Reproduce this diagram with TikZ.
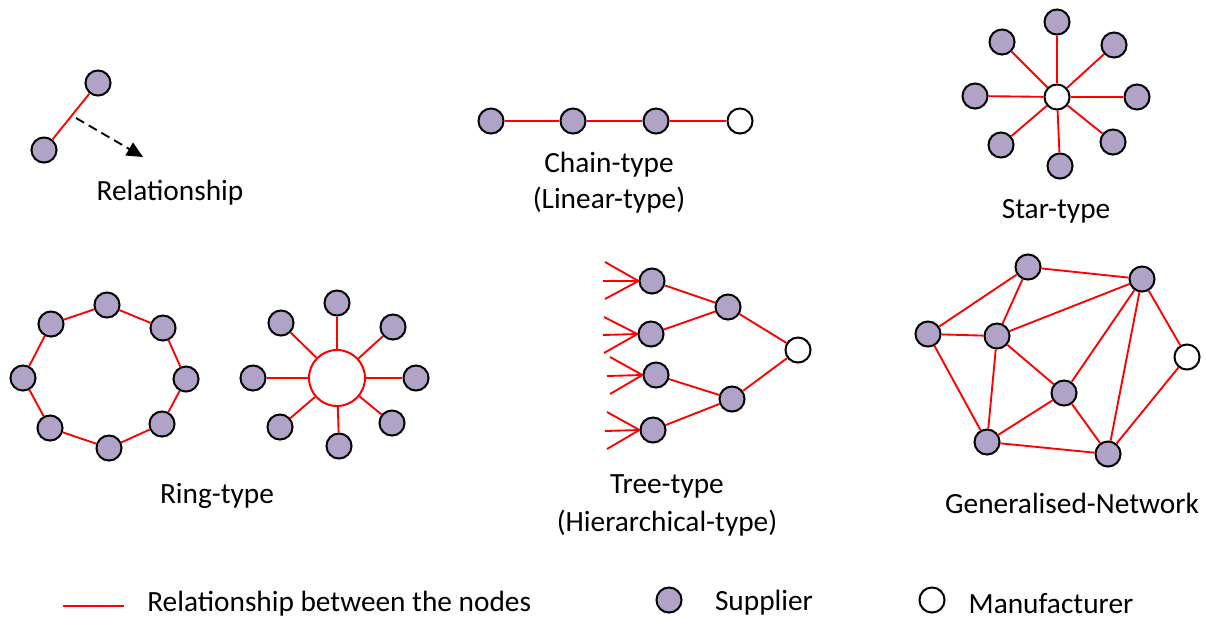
\documentclass[tikz,border=0pt]{standalone}
\usepackage{fontspec}
\setmainfont{Carlito}
\usetikzlibrary{arrows.meta}
\begin{document}
\begin{tikzpicture}[x=0.75pt,y=-0.75pt,
  sup/.style={circle,draw=black,fill={rgb,255:red,177;green,162;blue,199},line width=1.5pt,inner sep=0pt,minimum size=18.8pt},
  man/.style={circle,draw=black,fill=white,line width=1.5pt,inner sep=0pt,minimum size=18.8pt},
  hub/.style={circle,draw=red,fill=white,line width=1.5pt,inner sep=0pt,minimum size=42pt},
  rel/.style={draw=red,line width=1.4pt},
  lbl/.style={font=\fontsize{22}{26}\selectfont,inner sep=0pt}]
\useasboundingbox (0,0) rectangle (1206,619);
% Relationship
\node[sup] (r1) at (98,83) {};
\node[sup] (r2) at (44,150) {};
\draw[rel] (r1) -- (r2);
\coordinate (ra) at (76,118);
\coordinate (rb) at (143,157);
\draw[black,line width=1.4pt,dash pattern=on 7pt off 4pt,-{Triangle[length=12pt,width=11pt]}] (ra) -- (rb);
\node[lbl] (tr) at (170,193) {Relationship};
% Chain
\node[sup] (c1) at (491,121) {};
\node[sup] (c2) at (573,121) {};
\node[sup] (c3) at (656,121) {};
\node[man] (c4) at (740,121) {};
\draw[rel] (c1) -- (c2) (c2) -- (c3) (c3) -- (c4);
\node[lbl] (tc1) at (609,165) {Chain-type};
\node[lbl] (tc2) at (609,200) {(Linear-type)};
% Star
\node[man] (s0) at (1057,97) {};
\node[sup] (s1) at (1057,22) {};
\node[sup] (s2) at (1114,45) {};
\node[sup] (s3) at (1137,97) {};
\node[sup] (s4) at (1113,142) {};
\node[sup] (s5) at (1060,166) {};
\node[sup] (s6) at (1001,145) {};
\node[sup] (s7) at (975,96) {};
\node[sup] (s8) at (1002,42) {};
\foreach \i in {1,...,8} \draw[rel] (s0) -- (s\i);
\node[lbl] (ts) at (1056,211) {Star-type};
% Ring
\node[sup] (g1) at (107,305) {};
\node[sup] (g2) at (163,328) {};
\node[sup] (g3) at (186,379) {};
\node[sup] (g4) at (162,424) {};
\node[sup] (g5) at (109,448) {};
\node[sup] (g6) at (50,428) {};
\node[sup] (g7) at (23,378) {};
\node[sup] (g8) at (51,324) {};
\draw[rel] (g1) -- (g2) (g2) -- (g3) (g3) -- (g4) (g4) -- (g5) (g5) -- (g6) (g6) -- (g7) (g7) -- (g8) (g8) -- (g1);
% Hub
\node[hub] (h0) at (337,378) {};
\node[sup] (h1) at (337,303) {};
\node[sup] (h2) at (393,327) {};
\node[sup] (h3) at (416,378) {};
\node[sup] (h4) at (392,423) {};
\node[sup] (h5) at (339,446) {};
\node[sup] (h6) at (280,427) {};
\node[sup] (h7) at (253,378) {};
\node[sup] (h8) at (281,323) {};
\foreach \i in {1,...,8} \draw[rel] (h0) -- (h\i);
\node[lbl] (tg) at (217,496) {Ring-type};
% Tree
\node[sup] (t1) at (652,281) {};
\node[sup] (t2) at (651,334) {};
\node[sup] (t3) at (656,375) {};
\node[sup] (t4) at (653,430) {};
\node[sup] (m1) at (728,307) {};
\node[sup] (m2) at (732,399) {};
\node[man] (tm) at (798,350) {};
\draw[rel] (t1) -- (m1) (t2) -- (m1) (t3) -- (m2) (t4) -- (m2) (m1) -- (tm) (m2) -- (tm);
\coordinate (f1a) at (605,262); \coordinate (f1b) at (603,281); \coordinate (f1c) at (605,299);
\coordinate (f2a) at (604,317); \coordinate (f2b) at (603,335); \coordinate (f2c) at (604,353);
\coordinate (f3a) at (610,357); \coordinate (f3b) at (607,376); \coordinate (f3c) at (610,394);
\coordinate (f4a) at (607,412); \coordinate (f4b) at (605,431); \coordinate (f4c) at (607,449);
\foreach \k in {1,2,3,4} {
  \draw[rel] (f\k a) -- (t\k.west);
  \draw[rel] (f\k b) -- (t\k.west);
  \draw[rel] (f\k c) -- (t\k.west);
}
\node[lbl] (tt1) at (667,486) {Tree-type};
\node[lbl] (tt2) at (667,523) {(Hierarchical-type)};
% Generalised network
\node[sup] (nA) at (1028,267) {};
\node[sup] (nB) at (1142,279) {};
\node[sup] (nC) at (928,334) {};
\node[sup] (nD) at (997,336) {};
\node[sup] (nE) at (1064,393) {};
\node[sup] (nF) at (987,442) {};
\node[sup] (nG) at (1108,454) {};
\node[man] (nM) at (1187,357) {};
\draw[rel] (nA) -- (nB) (nA) -- (nC) (nA) -- (nD) (nC) -- (nD) (nD) -- (nB)
  (nC) -- (nF) (nD) -- (nF) (nD) -- (nE) (nE) -- (nB) (nF) -- (nE)
  (nF) -- (nG) (nE) -- (nG) (nB) -- (nG) (nB) -- (nM) (nG) -- (nM);
\node[lbl] (tn) at (1072,503) {Generalised-Network};
% Legend
\coordinate (la) at (63,606);
\coordinate (lb) at (124,606);
\draw[rel] (la) -- (lb);
\node[lbl,anchor=west] (l1) at (147,604) {Relationship between the nodes};
\node[sup] (ls) at (669,600) {};
\node[lbl] (l2) at (764,603) {Supplier};
\node[man] (lm) at (932,600) {};
\node[lbl] (l3) at (1051,604) {Manufacturer};
\end{tikzpicture}
\end{document}
